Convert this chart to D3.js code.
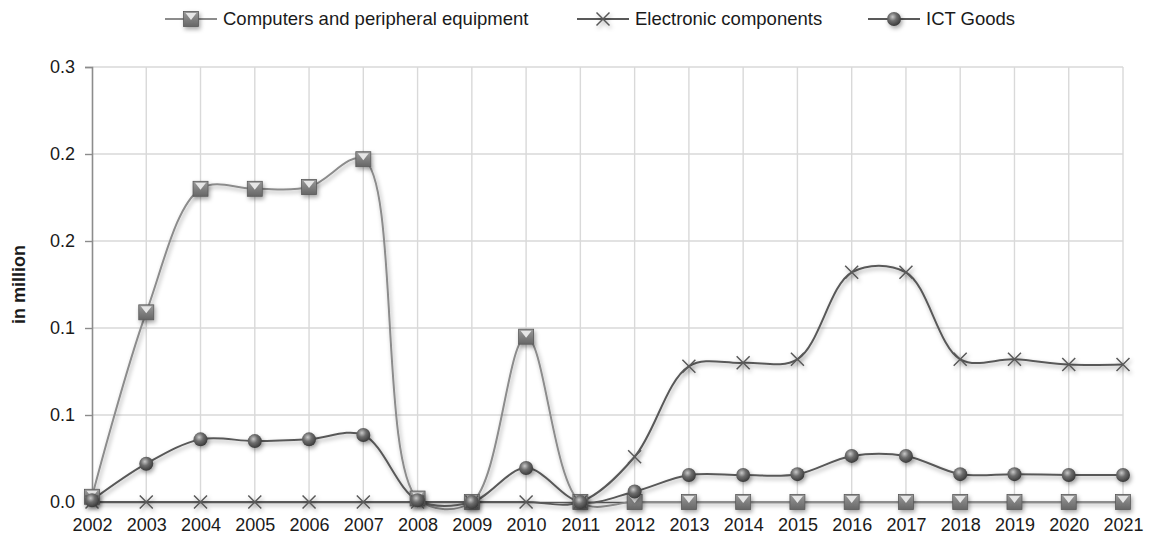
<!DOCTYPE html>
<html>
<head>
<meta charset="utf-8">
<script src="https://cdn.jsdelivr.net/npm/d3@7"></script>
<style>
  body { margin: 0; background: #fff; }
  text { font-family: "Liberation Sans", Arial, sans-serif; fill: #1a1a1a; }
</style>
</head>
<body>
<div id="chart"></div>
<script>
var years = d3.range(2002, 2022);
var computers = [0.003, 0.109, 0.180, 0.180, 0.181, 0.197, 0.002, 0, 0.095, 0, 0, 0, 0, 0, 0, 0, 0, 0, 0, 0];
var electronic = [0, 0, 0, 0, 0, 0, 0, 0, 0, 0, 0.026, 0.078, 0.080, 0.082, 0.132, 0.132, 0.082, 0.082, 0.079, 0.079];
var ictGoods = [0.001, 0.022, 0.036, 0.035, 0.036, 0.0385, 0.001, 0, 0.0195, 0, 0.006, 0.0155, 0.0155, 0.016, 0.0265, 0.0265, 0.016, 0.016, 0.0155, 0.0155];
var yTicks = [0, 0.05, 0.1, 0.15, 0.2, 0.25];
var seriesNames = ["Computers and peripheral equipment", "Electronic components", "ICT Goods"];

var W = 1150, H = 537;
var svg = d3.select('#chart').append('svg')
  .attr('width', W).attr('height', H);

var defs = svg.append('defs');
var sh = defs.append('filter').attr('id', 'shadow')
  .attr('x', '-50%').attr('y', '-50%').attr('width', '200%').attr('height', '200%');
sh.append('feDropShadow').attr('dx', 1.5).attr('dy', 2.5).attr('stdDeviation', 2)
  .attr('flood-color', '#000').attr('flood-opacity', 0.35);

var ball = defs.append('radialGradient').attr('id', 'ball')
  .attr('cx', '40%').attr('cy', '35%').attr('r', '65%');
ball.append('stop').attr('offset', '0%').attr('stop-color', '#c8c8c8');
ball.append('stop').attr('offset', '45%').attr('stop-color', '#6e6e6e');
ball.append('stop').attr('offset', '100%').attr('stop-color', '#3a3a3a');

var sq = defs.append('linearGradient').attr('id', 'sq')
  .attr('x1', 0).attr('y1', 0).attr('x2', 0).attr('y2', 1);
sq.append('stop').attr('offset', '0%').attr('stop-color', '#9a9a9a');
sq.append('stop').attr('offset', '100%').attr('stop-color', '#666');

var x = d3.scaleLinear().domain([2002, 2021]).range([92, 1123]);
var y = d3.scaleLinear().domain([0, 0.25]).range([502, 67]);

// grid
svg.append('g').selectAll('line.h').data(yTicks.slice(1)).enter().append('line')
  .attr('x1', x(2002)).attr('x2', x(2021))
  .attr('y1', function(d){ return y(d); }).attr('y2', function(d){ return y(d); })
  .style('stroke', '#d9d9d9').style('stroke-width', 1.4);
svg.append('g').selectAll('line.v').data(years.slice(1)).enter().append('line')
  .attr('x1', function(d){ return x(d); }).attr('x2', function(d){ return x(d); })
  .attr('y1', y(0.25)).attr('y2', y(0))
  .style('stroke', '#d9d9d9').style('stroke-width', 1.4);

// y axis
var yAxis = svg.append('g').attr('transform', 'translate(' + x(2002) + ',0)')
  .call(d3.axisLeft(y).tickValues(yTicks).tickSize(7).tickPadding(10)
    .tickFormat(function(d){ return (Math.round(d * 10 + 1e-9) / 10).toFixed(1); }));
yAxis.select('.domain').style('stroke', '#8c8c8c').style('stroke-width', 1.6);
yAxis.selectAll('.tick line').style('stroke', '#8c8c8c').style('stroke-width', 1.4);
yAxis.selectAll('text').style('font-size', '18px').style('fill', '#1a1a1a')
  .style('font-family', '"Liberation Sans", Arial, sans-serif');

// x axis
var xAxis = svg.append('g').attr('transform', 'translate(0,' + y(0) + ')')
  .call(d3.axisBottom(x).tickValues(years).tickFormat(d3.format('d')).tickSize(0).tickPadding(16));
xAxis.select('.domain').style('stroke', '#595959').style('stroke-width', 1.6);
xAxis.selectAll('text').style('font-size', '18px').style('fill', '#1a1a1a')
  .style('font-family', '"Liberation Sans", Arial, sans-serif');

svg.append('text')
  .attr('transform', 'translate(25,' + ((y(0) + y(0.25)) / 2) + ') rotate(-90)')
  .attr('text-anchor', 'middle')
  .style('font-size', '18px').style('font-weight', 'bold')
  .text('in million');

var line = d3.line()
  .x(function(d, i){ return x(years[i]); })
  .y(function(d){ return y(d); })
  .curve(d3.curveCatmullRom.alpha(0.5));

function drawSquare(g, cx, cy, s) {
  g.append('rect').attr('x', cx - s/2).attr('y', cy - s/2).attr('width', s).attr('height', s)
    .style('fill', 'url(#sq)').style('stroke', '#5a5a5a').style('stroke-width', 0.8)
    .attr('filter', 'url(#shadow)');
  g.append('path')
    .attr('d', 'M' + (cx - s/2 + 2) + ',' + (cy - s/2 + 1.5) + 'L' + (cx + s/2 - 2) + ',' + (cy - s/2 + 1.5) + 'L' + cx + ',' + (cy + 1) + 'Z')
    .style('fill', '#e6e6e6');
}
function drawCross(g, cx, cy, s) {
  g.append('path')
    .attr('d', 'M' + (cx - s) + ',' + (cy - s) + 'L' + (cx + s) + ',' + (cy + s) + 'M' + (cx - s) + ',' + (cy + s) + 'L' + (cx + s) + ',' + (cy - s))
    .style('stroke', '#595959').style('stroke-width', 1.5).style('fill', 'none')
    .attr('filter', 'url(#shadow)');
}
function drawBall(g, cx, cy, r) {
  g.append('circle').attr('cx', cx).attr('cy', cy).attr('r', r)
    .style('fill', 'url(#ball)').attr('filter', 'url(#shadow)');
}

var series = [
  { name: seriesNames[0], values: computers, color: '#8c8c8c', marker: drawSquare, size: 15 },
  { name: seriesNames[1], values: electronic, color: '#595959', marker: drawCross, size: 6.5 },
  { name: seriesNames[2], values: ictGoods, color: '#595959', marker: drawBall, size: 7 }
];

series.forEach(function(s) {
  var g = svg.append('g');
  g.append('path').attr('d', line(s.values))
    .style('fill', 'none').style('stroke', s.color).style('stroke-width', 2)
    .attr('filter', 'url(#shadow)');
});
series.forEach(function(s) {
  var g = svg.append('g');
  s.values.forEach(function(v, i) { s.marker(g, x(years[i]), y(v), s.size); });
});

// legend
var legendX = [165, 577, 868];
var lg = svg.append('g');
series.forEach(function(s, i) {
  var lx = legendX[i], ly = 19;
  lg.append('line').attr('x1', lx).attr('x2', lx + 52).attr('y1', ly).attr('y2', ly)
    .style('stroke', s.color).style('stroke-width', 2);
  s.marker(lg, lx + 26, ly, s.size);
  lg.append('text').attr('x', lx + 58).attr('y', 25)
    .style('font-size', '18.5px').text(s.name);
});
</script>
</body>
</html>
